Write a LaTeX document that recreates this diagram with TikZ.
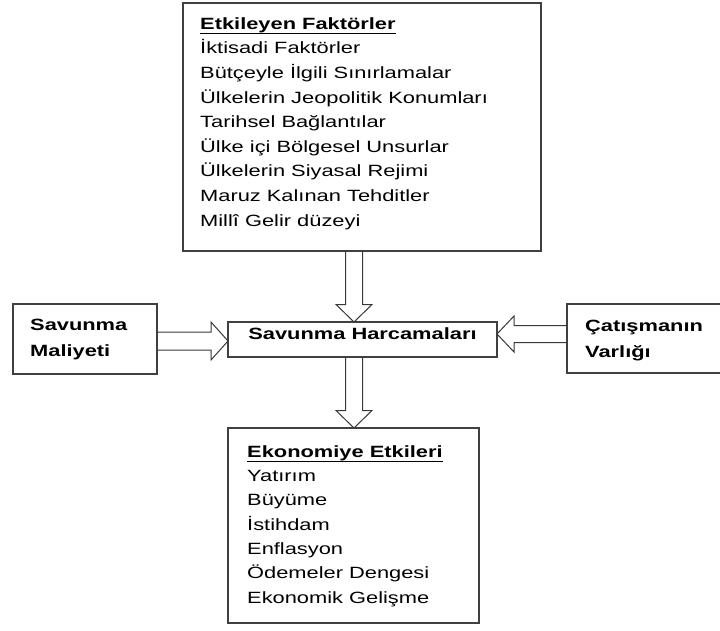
\documentclass[tikz,border=0pt]{standalone}
\usepackage{fontspec}
\setmainfont{Liberation Sans}[FakeStretch=1.34]
\usetikzlibrary{calc}
\newcommand\ulin[1]{\setbox0\hbox{#1}\rlap{\rule[-5.2pt]{\wd0}{1.9pt}}\box0}
\newcommand\blkdown[2]{\draw[blk] let \p1=(#1),\p2=(#2) in
  (\x1-8.5pt,\y1) -- (\x1-8.5pt,\y2+17.5pt) -- (\x1-18pt,\y2+17.5pt) -- (\x1,\y2)
  -- (\x1+18pt,\y2+17.5pt) -- (\x1+8.5pt,\y2+17.5pt) -- (\x1+8.5pt,\y1);}
\newcommand\blkright[2]{\draw[blk] let \p1=(#1),\p2=(#2) in
  (\x1,\y1+9pt) -- (\x2-17pt,\y1+9pt) -- (\x2-17pt,\y1+19pt) -- (\x2,\y1)
  -- (\x2-17pt,\y1-19pt) -- (\x2-17pt,\y1-9pt) -- (\x1,\y1-9pt);}
\newcommand\blkleft[2]{\draw[blk] let \p1=(#1),\p2=(#2) in
  (\x1,\y1+8.5pt) -- (\x2+17pt,\y1+8.5pt) -- (\x2+17pt,\y1+18pt) -- (\x2,\y1)
  -- (\x2+17pt,\y1-18pt) -- (\x2+17pt,\y1-8.5pt) -- (\x1,\y1-8.5pt);}
\begin{document}
\begin{tikzpicture}[x=1pt,y=-1pt,
  boxnode/.style={draw=black!75,line width=1.2pt,inner sep=0pt,outer sep=0pt,rectangle},
  blk/.style={draw=black!78,line width=1pt,line join=miter},
  txt/.style={inner sep=0pt,anchor=north west,align=left,font=\fontsize{16.3}{24.6}\selectfont},
  sidetxt/.style={inner sep=0pt,anchor=north west,align=left,font=\fontsize{16.3}{25.5}\selectfont\bfseries}]
\useasboundingbox (0,0) rectangle (720,630);
% boxes
\node[boxnode,minimum width=358pt,minimum height=248pt] (top) at (362,127) {};
\node[boxnode,minimum width=269pt,minimum height=35pt] (mid) at (362.5,339.5) {};
\node[boxnode,minimum width=144pt,minimum height=70pt] (lbox) at (85,339) {};
\node[boxnode,minimum width=154pt,minimum height=69pt] (rbox) at (644,338.5) {};
\node[boxnode,minimum width=251pt,minimum height=195pt] (bot) at (353.5,525.5) {};
% texts
\node[txt] (toptxt) at (200,14) {\rule{0pt}{15pt}\ulin{\textbf{Etkileyen Faktörler}}\\
  İktisadi Faktörler\\
  Bütçeyle İlgili Sınırlamalar\\
  Ülkelerin Jeopolitik Konumları\\
  Tarihsel Bağlantılar\\
  Ülke içi Bölgesel Unsurlar\\
  Ülkelerin Siyasal Rejimi\\
  Maruz Kalınan Tehditler\\
  Millî Gelir düzeyi};
\node[inner sep=0pt,anchor=base,font=\fontsize{16.3}{20}\selectfont\bfseries] (midtxt) at (362.5,339.5) {Savunma Harcamaları};
\node[sidetxt] (ltxt) at (30,315.5) {\rule{0pt}{15pt}Savunma\\Maliyeti};
\node[sidetxt] (rtxt) at (585,316.5) {\rule{0pt}{15pt}Çatışmanın\\Varlığı};
\node[txt,font=\fontsize{16.3}{24.3}\selectfont] (bottxt) at (247,442) {\rule{0pt}{15pt}\ulin{\textbf{Ekonomiye Etkileri}}\\
  Yatırım\\
  Büyüme\\
  İstihdam\\
  Enflasyon\\
  Ödemeler Dengesi\\
  Ekonomik Gelişme};
% block arrows
\blkdown{$(top.south)+(-8,0)$}{mid.north}
\blkdown{$(mid.south)+(-8.5,0)$}{bot.north}
\blkright{$(lbox.east)+(0,2)$}{mid.west}
\blkleft{$(rbox.west)+(0,-4.5)$}{mid.east}
\end{tikzpicture}
\end{document}
